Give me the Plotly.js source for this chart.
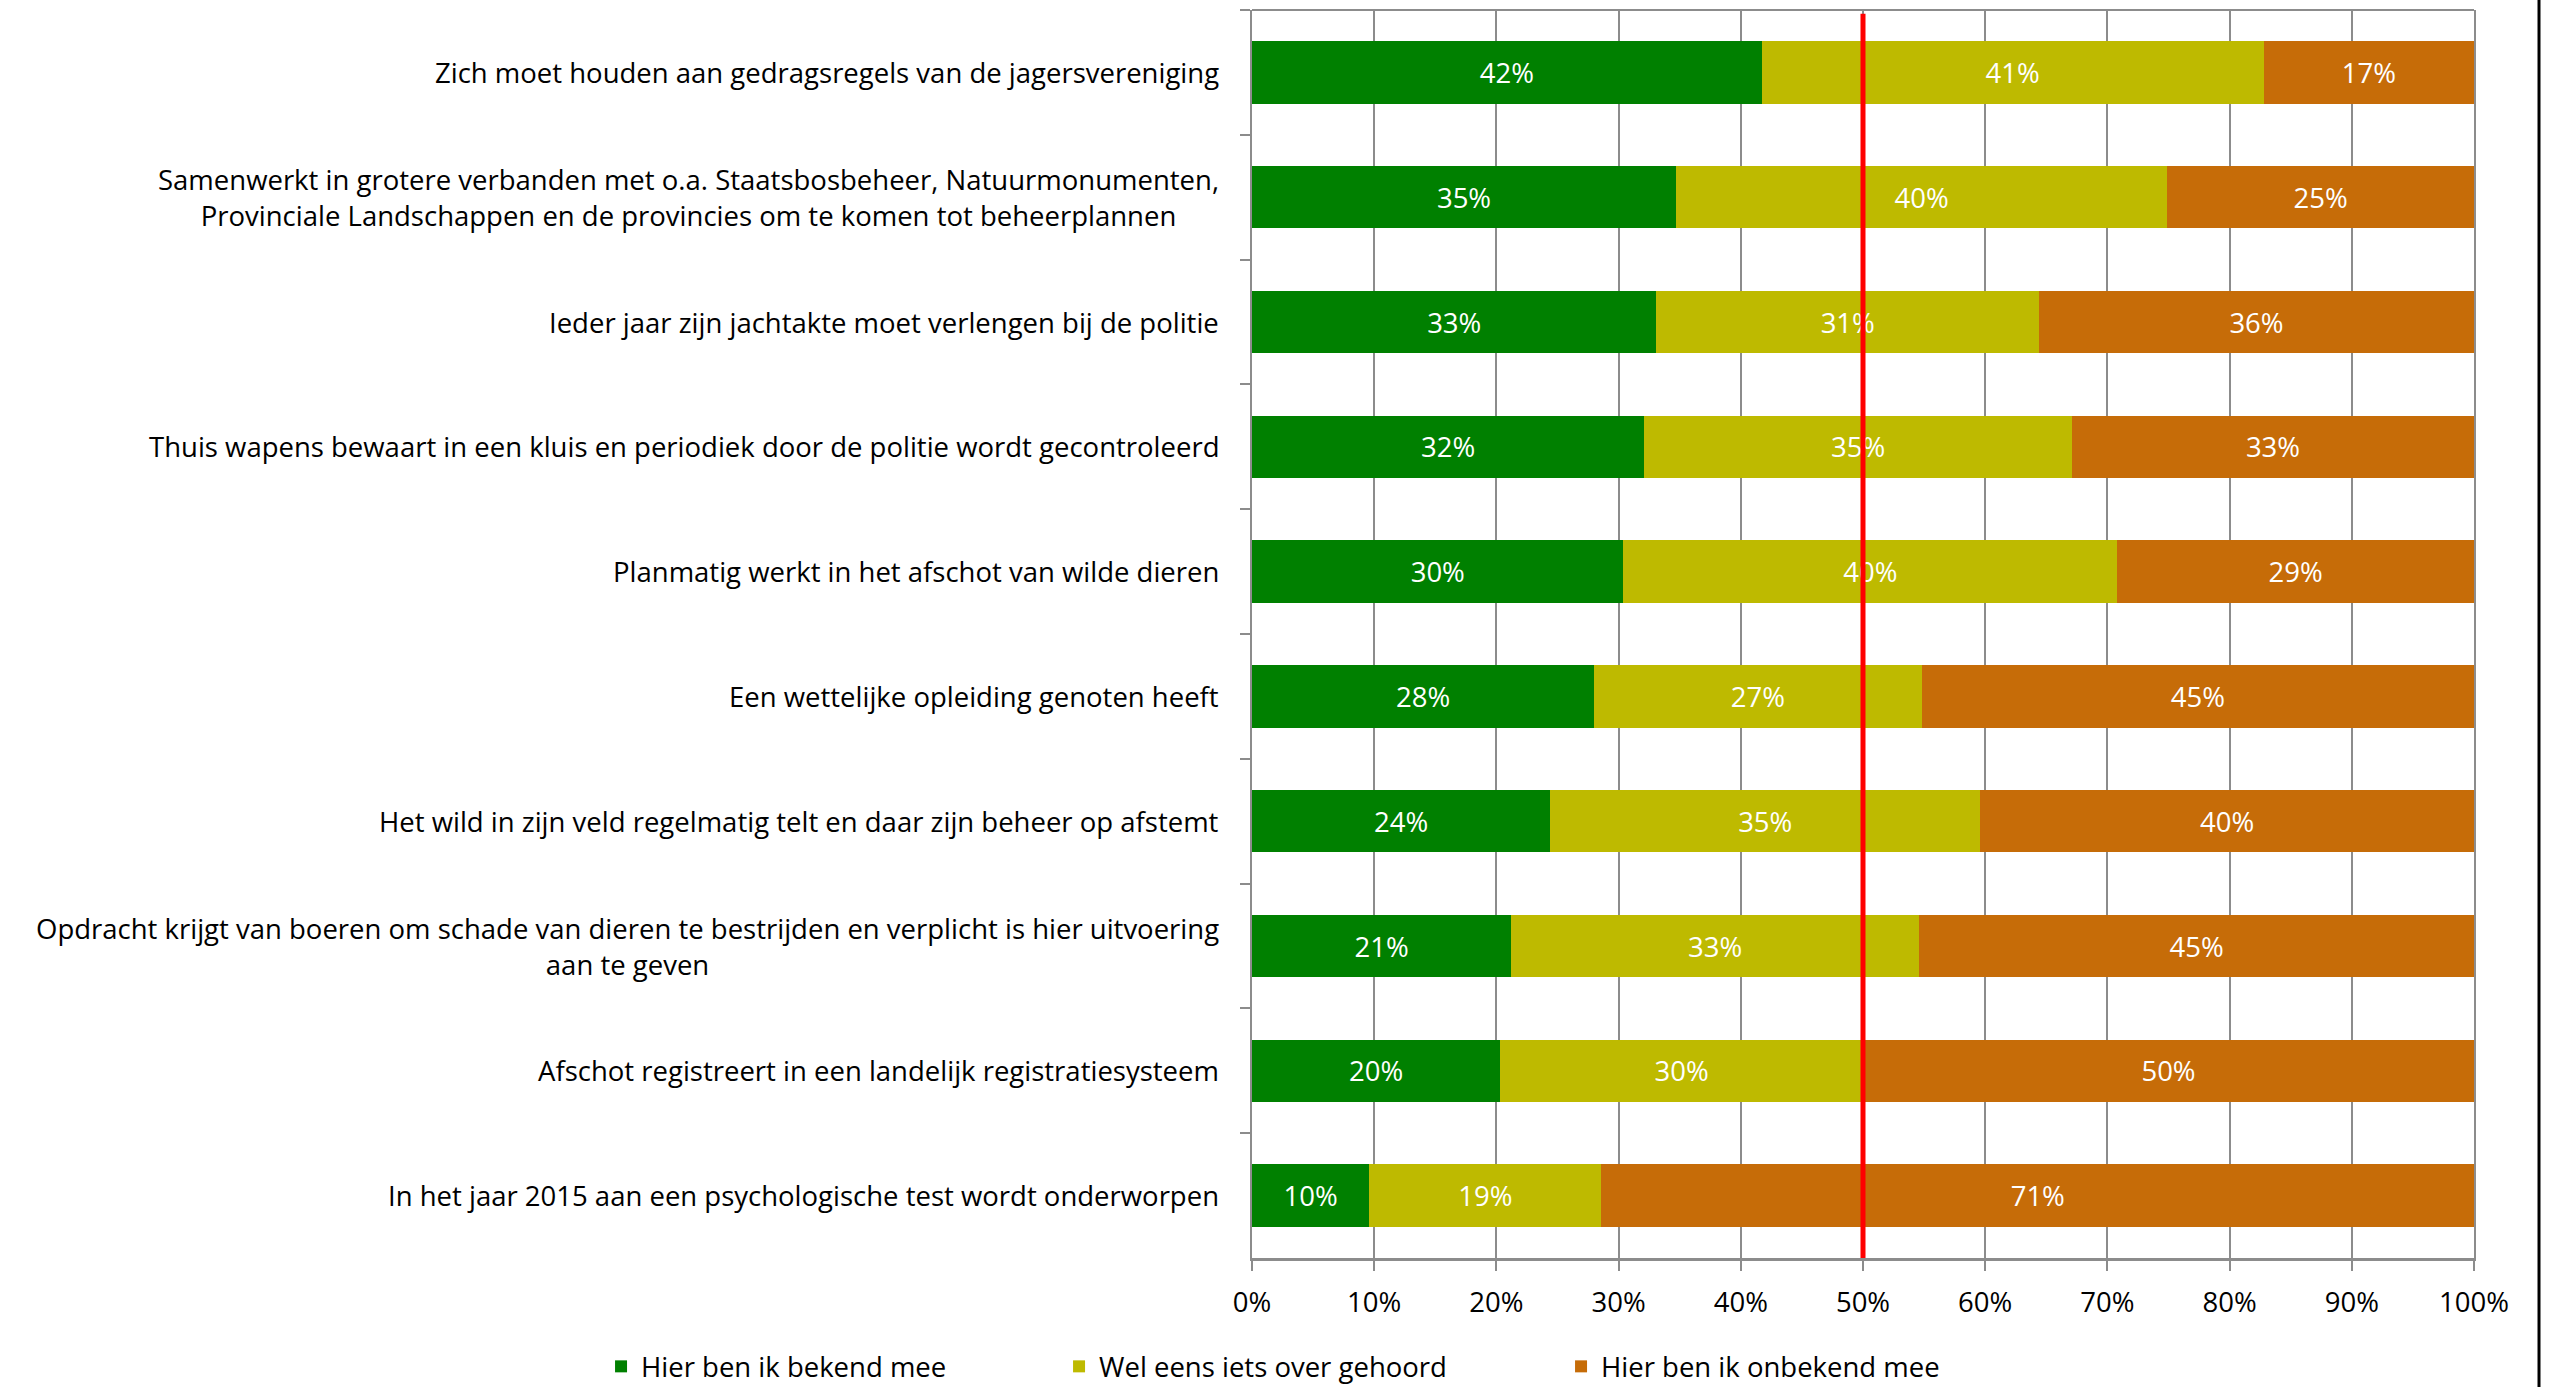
<!DOCTYPE html>
<html>
<head>
<meta charset="utf-8">
<script src="https://cdn.plot.ly/plotly-3.0.1.min.js"></script>
<style>
  html, body { margin: 0; padding: 0; background: #ffffff; }
  #chart { width: 2553px; height: 1387px; }
</style>
</head>
<body>
<div id="chart"></div>
<script>
// ---- Data (top to bottom) ----
const categories = [
  "Zich moet houden aan gedragsregels van de jagersvereniging",
  "Samenwerkt in grotere verbanden met o.a. Staatsbosbeheer, Natuurmonumenten,<br>Provinciale Landschappen en de provincies om te komen tot beheerplannen",
  "Ieder jaar zijn jachtakte moet verlengen bij de politie",
  "Thuis wapens bewaart in een kluis en periodiek door de politie wordt gecontroleerd",
  "Planmatig werkt in het afschot van wilde dieren",
  "Een wettelijke opleiding genoten heeft",
  "Het wild in zijn veld regelmatig telt en daar zijn beheer op afstemt",
  "Opdracht krijgt van boeren om schade van dieren te bestrijden en verplicht is hier uitvoering<br>aan te geven",
  "Afschot registreert in een landelijk registratiesysteem",
  "In het jaar 2015 aan een psychologische test wordt onderworpen"
];
const seriesNames = ["Hier ben ik bekend mee", "Wel eens iets over gehoord", "Hier ben ik onbekend mee"];
const bekend   = [0.417, 0.347, 0.331, 0.321, 0.304, 0.280, 0.244, 0.212, 0.203, 0.096];
const gehoord  = [0.411, 0.402, 0.313, 0.350, 0.404, 0.268, 0.352, 0.334, 0.297, 0.190];
const onbekend = [0.172, 0.251, 0.356, 0.329, 0.292, 0.452, 0.404, 0.454, 0.500, 0.714];
const xTicks = [0, 0.1, 0.2, 0.3, 0.4, 0.5, 0.6, 0.7, 0.8, 0.9, 1.0];
const referenceLine = 0.5;

// ---- Styles ----
const colors = ["#008000", "#BEBA00", "#C66C08"];
const FONT = "'Open Sans', 'Liberation Sans', sans-serif";
const FS = 27.5;
const GRAY = "#8c8c8c";
const legendIds = ["legend", "legend2", "legend3"];
const legendX = [-0.5327, -0.1579, 0.2529];

const seriesValues = [bekend, gehoord, onbekend];
const traces = seriesValues.map((vals, i) => ({
  type: "bar",
  orientation: "h",
  name: seriesNames[i],
  legend: legendIds[i],
  y: categories,
  x: vals,
  marker: { color: colors[i], line: { width: 0 } },
  texttemplate: "%{x:.0%}",
  textposition: "inside",
  insidetextanchor: "middle",
  textangle: 0,
  constraintext: "none",
  textfont: { family: FONT, size: FS, color: "#ffffff" },
  hoverinfo: "name+x"
}));

const annotations = categories.map(c => ({
  xref: "paper", yref: "y",
  x: 0, y: c,
  xshift: -31,
  xanchor: "right", yanchor: "middle",
  align: "center",
  text: c,
  showarrow: false,
  font: { family: FONT, size: FS, color: "#000000" }
}));

function legendDef(i) {
  return {
    orientation: "h",
    xref: "paper", x: legendX[i], xanchor: "left",
    yref: "container", y: 0.0148, yanchor: "middle",
    font: { family: FONT, size: FS, color: "#000000" },
    bgcolor: "rgba(0,0,0,0)",
    itemclick: false, itemdoubleclick: false
  };
}

const layout = {
  width: 2553,
  height: 1387,
  margin: { l: 1252, r: 79, t: 10, b: 129, pad: 0 },
  paper_bgcolor: "#ffffff",
  plot_bgcolor: "#ffffff",
  barmode: "stack",
  bargap: 0.5,
  showlegend: true,
  legend: legendDef(0),
  legend2: legendDef(1),
  legend3: legendDef(2),
  xaxis: {
    range: [0, 1],
    tickvals: xTicks,
    tickformat: ".0%",
    showgrid: true,
    gridcolor: GRAY,
    gridwidth: 1.5,
    zeroline: false,
    showline: true,
    linecolor: GRAY,
    linewidth: 3,
    ticks: "outside",
    ticklen: 10,
    tickwidth: 1.5,
    tickcolor: GRAY,
    ticklabelstandoff: 8,
    tickfont: { family: FONT, size: FS, color: "#000000" },
    fixedrange: true
  },
  yaxis: {
    type: "category",
    autorange: "reversed",
    showticklabels: false,
    ticks: "outside",
    tickson: "boundaries",
    ticklen: 10,
    tickwidth: 2,
    tickcolor: GRAY,
    showgrid: false,
    zeroline: false,
    showline: true,
    mirror: true,
    linecolor: GRAY,
    linewidth: 2,
    fixedrange: true
  },
  annotations: annotations,
  shapes: [
    { type: "line", xref: "paper", yref: "paper", x0: 0, x1: 1, y0: 1, y1: 1,
      line: { color: GRAY, width: 2 } },
    { type: "line", xref: "x", yref: "paper", x0: referenceLine, x1: referenceLine, y0: 0, y1: 0.997,
      line: { color: "#ff0000", width: 5 } },
    { type: "line", xref: "paper", yref: "paper", x0: 1.0532, x1: 1.0532, y0: -0.11, y1: 1.01,
      line: { color: "#000000", width: 3 } }
  ]
};

Plotly.newPlot("chart", traces, layout, { displayModeBar: false, responsive: false });
</script>
</body>
</html>
